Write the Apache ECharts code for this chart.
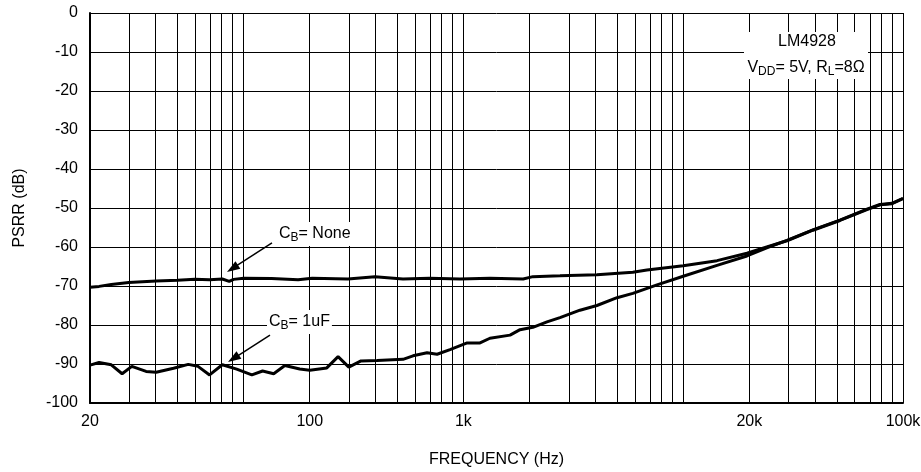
<!DOCTYPE html>
<html><head><meta charset="utf-8">
<script src="https://cdn.jsdelivr.net/npm/echarts@6/dist/echarts.min.js"></script>
<style>html,body{margin:0;padding:0;background:#fff}#c{width:921px;height:472px}</style>
</head><body><div id="c"></div>
<script>
// ---- data (frequency in Hz, PSRR in dB) ----
const freqNone = [20,22,25,30,40,50,60,70,80,86,90,100,134,177,205,298,396,531,700,964,1320,1870,2070,2750,4050,5900,6840,10000,14250,19500,24000,29650,38900,51650,68550,78550,89100,100000];
const psrrNone = [-70.3,-70.1,-69.6,-69.1,-68.7,-68.5,-68.3,-68.4,-68.2,-68.8,-68.3,-68.0,-68.1,-68.4,-68.0,-68.2,-67.6,-68.2,-68.0,-68.2,-68.0,-68.2,-67.6,-67.4,-67.1,-66.5,-65.9,-64.8,-63.5,-61.6,-60.0,-58.4,-55.7,-53.2,-50.4,-49.2,-48.9,-47.6];
const freq1uF = [20,22,25,28,31,36,40,48,56,62,70,80,93,109,122,137,154,180,200,239,269,301,342,405,531,590,683,759,869,1040,1190,1320,1630,1810,2070,2400,2750,3390,4050,5000,5900,7600,10000,14250,19500,24000,29650,38900,51650,68550,78550,89100,100000];
const psrr1uF = [-90.3,-89.6,-90.2,-92.5,-90.6,-91.9,-92.1,-91.1,-90.1,-90.6,-92.8,-90.2,-91.3,-92.8,-91.8,-92.5,-90.4,-91.3,-91.6,-91.0,-88.1,-90.8,-89.2,-89.1,-88.8,-87.9,-87.1,-87.5,-86.3,-84.6,-84.6,-83.4,-82.6,-81.2,-80.6,-79.2,-78.1,-76.2,-75.0,-73.0,-71.9,-69.7,-67.5,-64.7,-62.3,-60.2,-58.3,-55.6,-53.1,-50.3,-49.1,-48.8,-47.5];
// x tick labels as printed on the reference (the "100" label sits on the 200 Hz line)
const xTickFreqs = [20, 200, 1000, 20000, 100000];
const xTickLabels = ['20', '100', '1k', '20k', '100k'];
const yMin = -100, yMax = 0, yStep = 10;
// annotation arrows: [from Hz, from dB, to Hz, to dB]
const arrowNone = [134.6, -58.97, 84.0, -66.4];
const arrow1uF = [131.8, -82.6, 84.9, -89.5];

const L = Math.log10;
const FONT = '"Liberation Sans", Arial, Helvetica, sans-serif';
const FS = 16;
const gridFreqs = [];
[10, 100, 1000, 10000].forEach(d => { for (let k = 1; k <= 9; k++) { const f = d * k; if (f >= 20 && f <= 100000) gridFreqs.push(f); } });
gridFreqs.push(100000);

const rich = {
  a: { fontSize: FS, fontFamily: FONT, fill: '#000', lineHeight: 20 },
  s: { fontSize: 12, fontFamily: FONT, fill: '#000', lineHeight: 12, verticalAlign: 'bottom' }
};

const chart = echarts.init(document.getElementById('c'), null, { renderer: 'canvas' });
const baseGraphic = [
  { type: 'rect', z: 100, shape: { x: 744, y: 32, width: 124, height: 47 }, style: { fill: '#fff' } },
  { type: 'text', z: 101, x: 807, y: 42, style: { text: 'LM4928', font: FS + 'px ' + FONT, fill: '#000', align: 'center', verticalAlign: 'middle' } },
  { type: 'text', z: 101, x: 806, y: 68, style: { text: '{a|V}{s|DD}{a|= 5V, R}{s|L}{a|=8Ω}', rich: rich, align: 'center', verticalAlign: 'middle' } },
  { type: 'text', z: 101, x: 277, y: 234, style: { text: '{a|C}{s|B}{a|= None}', rich: rich, align: 'left', verticalAlign: 'middle', backgroundColor: '#fff', padding: [2, 2, 2, 2] } },
  { type: 'text', z: 101, x: 267, y: 322, style: { text: '{a|C}{s|B}{a|= 1uF}', rich: rich, align: 'left', verticalAlign: 'middle', backgroundColor: '#fff', padding: [2, 2, 2, 2] } }
];
chart.setOption({
  animation: false,
  backgroundColor: '#fff',
  grid: { left: 90, right: 18, top: 13, bottom: 69, containLabel: false, outerBoundsMode: 'none' },
  xAxis: {
    type: 'value', min: L(20), max: L(100000),
    axisLine: { show: true, onZero: false, lineStyle: { color: '#000', width: 2 } },
    axisTick: { show: false },
    splitLine: { show: false },
    axisLabel: {
      customValues: xTickFreqs.map(L),
      formatter: v => { for (let i = 0; i < xTickFreqs.length; i++) if (Math.abs(L(xTickFreqs[i]) - v) < 1e-6) return xTickLabels[i]; return ''; },
      margin: 11, fontSize: FS, color: '#000', fontFamily: FONT, showMinLabel: true, showMaxLabel: true
    },
    name: 'FREQUENCY (Hz)', nameLocation: 'middle', nameGap: 49,
    nameTextStyle: { fontSize: FS, color: '#000', fontFamily: FONT }
  },
  yAxis: {
    type: 'value', min: yMin, max: yMax, interval: yStep,
    axisLine: { show: true, lineStyle: { color: '#000', width: 2 } },
    axisTick: { show: false },
    splitLine: { show: true, lineStyle: { color: '#000', width: 1 } },
    axisLabel: { margin: 12, fontSize: FS, color: '#000', fontFamily: FONT },
    name: 'PSRR (dB)', nameLocation: 'middle', nameGap: 62,
    nameTextStyle: { fontSize: FS, color: '#000', fontFamily: FONT }
  },
  series: [
    {
      type: 'line', data: [], silent: true, z: 1,
      markLine: {
        silent: true, symbol: 'none', label: { show: false }, animation: false,
        lineStyle: { color: '#000', width: 1, type: 'solid' },
        emphasis: { disabled: true },
        data: gridFreqs.map(f => ({ xAxis: L(f) }))
      }
    },
    {
      name: 'CB= None', type: 'line', z: 3, symbol: 'none', showSymbol: false, silent: true,
      data: freqNone.map((f, i) => [L(f), psrrNone[i]]),
      lineStyle: { color: '#000', width: 3 }
    },
    {
      name: 'CB= 1uF', type: 'line', z: 3, symbol: 'none', showSymbol: false, silent: true,
      data: freq1uF.map((f, i) => [L(f), psrr1uF[i]]),
      lineStyle: { color: '#000', width: 3 }
    }
  ],
  graphic: baseGraphic
});

// annotation arrows, positioned through the chart's own scales
function arrowGraphic(a) {
  const p0 = chart.convertToPixel({ gridIndex: 0 }, [L(a[0]), a[1]]);
  const p1 = chart.convertToPixel({ gridIndex: 0 }, [L(a[2]), a[3]]);
  const dx = p1[0] - p0[0], dy = p1[1] - p0[1], len = Math.hypot(dx, dy);
  const ux = dx / len, uy = dy / len, nx = -uy, ny = ux;
  const headLen = 13, halfW = 4.5;
  const bx = p1[0] - headLen * ux, by = p1[1] - headLen * uy;
  return [
    { type: 'line', z: 102, shape: { x1: p0[0], y1: p0[1], x2: bx + ux, y2: by + uy }, style: { stroke: '#000', lineWidth: 1.5 } },
    { type: 'polygon', z: 102, shape: { points: [[p1[0], p1[1]], [bx + halfW * nx, by + halfW * ny], [bx - halfW * nx, by - halfW * ny]] }, style: { fill: '#000' } }
  ];
}
chart.setOption({ graphic: baseGraphic.concat(arrowGraphic(arrowNone), arrowGraphic(arrow1uF)) });
</script>
</body></html>
